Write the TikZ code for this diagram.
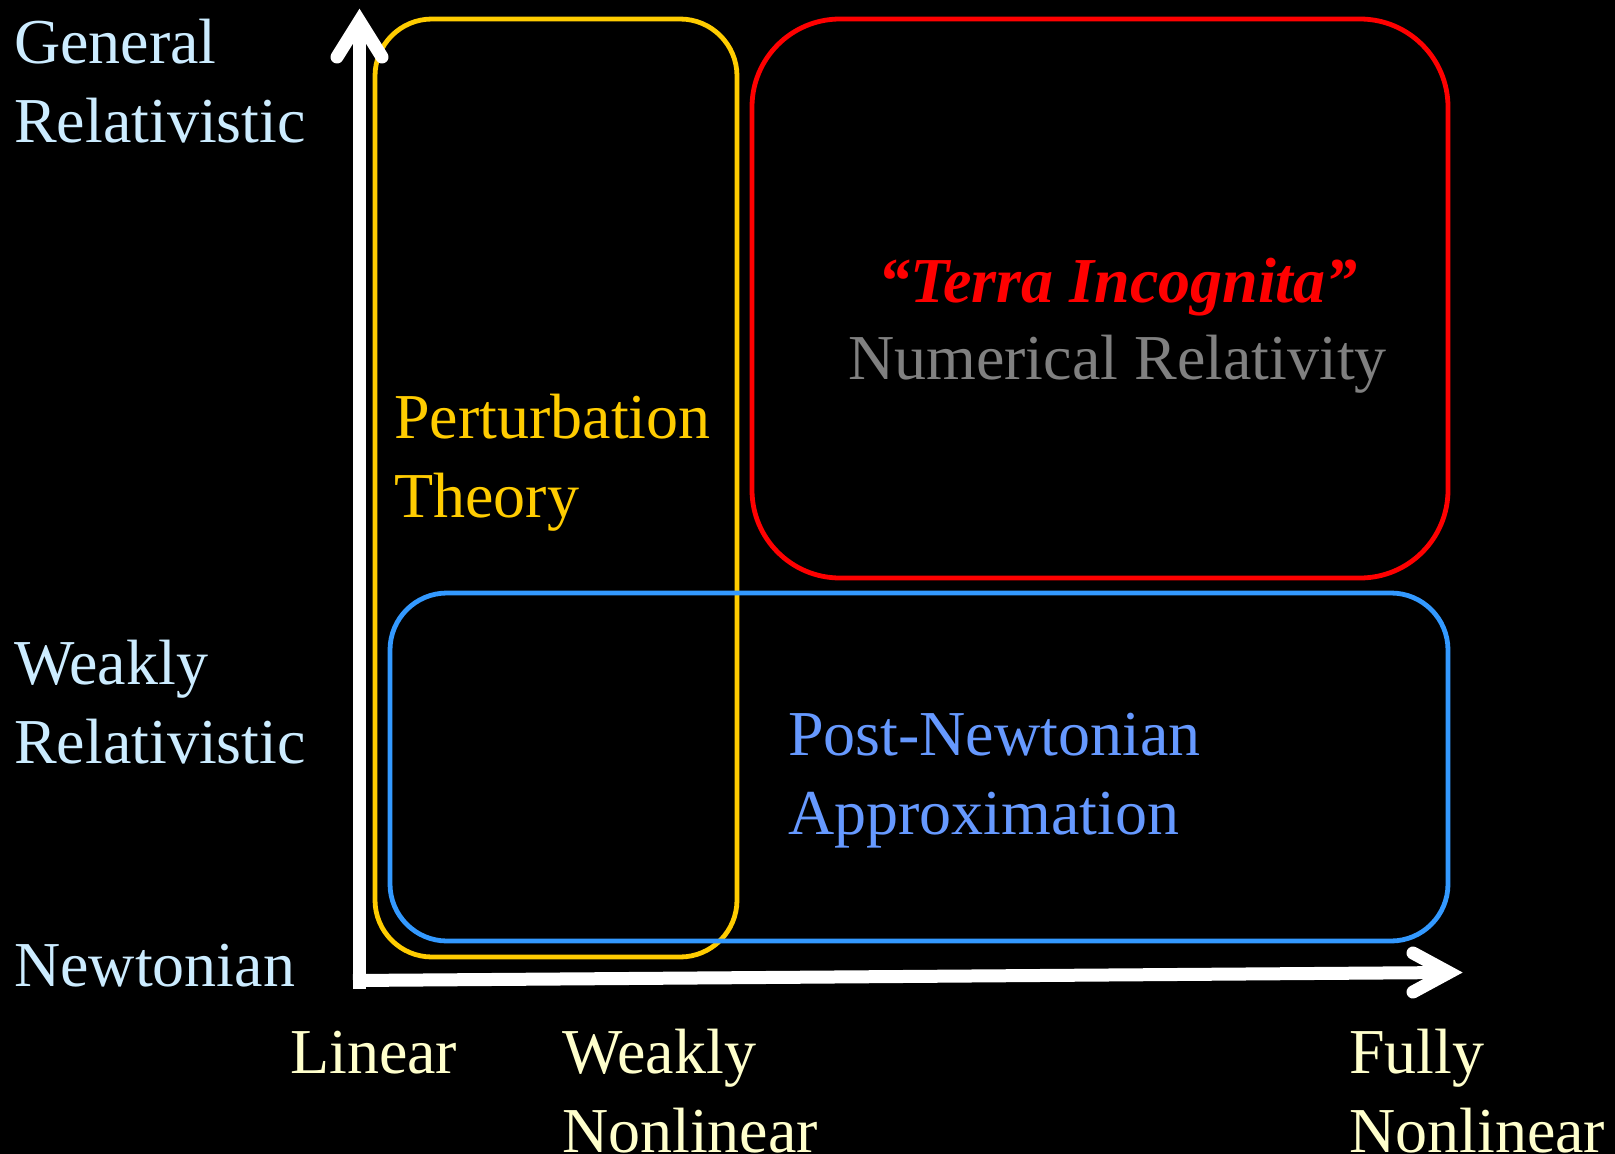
\documentclass[tikz,border=0pt]{standalone}
\usepackage{fontspec}
\setmainfont{Liberation Serif}
\definecolor{lblue}{HTML}{CCECFF}
\definecolor{cream}{HTML}{FFFFCC}
\definecolor{gold}{HTML}{FFCC00}
\definecolor{boxblue}{HTML}{3399FF}
\definecolor{txtblue}{HTML}{6699FF}
\definecolor{nrgray}{HTML}{808080}
\begin{document}
\begin{tikzpicture}[x=1pt,y=-1pt,
  lbl/.style={anchor=base west,inner sep=0pt,font=\fontsize{64}{79}\selectfont},
  axis/.style={white,line width=13pt},
  barb/.style={white,line width=13pt,line cap=round,line join=miter,miter limit=10},
  region/.style={line width=4.8pt}]
\fill[black] (0,0) rectangle (1615,1154);
\useasboundingbox (0,0) rectangle (1615,1154);
% regions
\draw[region,gold,rounded corners=57pt] (375,19) rectangle (737,957);
\draw[region,red,rounded corners=88pt] (752,19) rectangle (1448,578);
\draw[region,boxblue,rounded corners=57pt] (390,593) rectangle (1448,941);
% axes
\coordinate (o) at (359.5,989);
\coordinate (ytop) at (359.5,24);
\coordinate (ytipv) at (359.5,21);
\coordinate (ywl) at (337,57);
\coordinate (ywr) at (382,57);
\coordinate (xo) at (353,980.5);
\coordinate (xend) at (1450,972.5);
\coordinate (xtipv) at (1449,972.5);
\coordinate (xwu) at (1413,953);
\coordinate (xwd) at (1413,992);
\draw[axis] (o) -- (ytop);
\draw[barb] (ywl) -- (ytipv) -- (ywr);
\draw[axis] (xo) -- (xend);
\draw[barb] (xwu) -- (xtipv) -- (xwd);
% axis labels
\node[lbl,lblue] (gr) at (14,63) {\begin{tabular}[t]{@{}l@{}}General\\Relativistic\end{tabular}};
\node[lbl,lblue] (wr) at (14,684) {\begin{tabular}[t]{@{}l@{}}Weakly\\Relativistic\end{tabular}};
\node[lbl,lblue] (nw) at (14,986) {Newtonian};
\node[lbl,cream] (lin) at (290,1073) {Linear};
\node[lbl,cream] (wnl) at (562,1073) {\begin{tabular}[t]{@{}l@{}}Weakly\\Nonlinear\end{tabular}};
\node[lbl,cream] (fnl) at (1349,1073) {\begin{tabular}[t]{@{}l@{}}Fully\\Nonlinear\end{tabular}};
% region labels
\node[lbl,gold] (pt) at (394,438) {\begin{tabular}[t]{@{}l@{}}Perturbation\\Theory\end{tabular}};
\node[lbl,red,font=\fontsize{64}{79}\selectfont\bfseries\itshape,anchor=base] (ti) at (1118,302) {``Terra Incognita''};
\node[lbl,nrgray] (nr) at (848,379) {Numerical Relativity};
\node[lbl,txtblue] (pn) at (788,755) {\begin{tabular}[t]{@{}l@{}}Post-Newtonian\\Approximation\end{tabular}};
\end{tikzpicture}
\end{document}
